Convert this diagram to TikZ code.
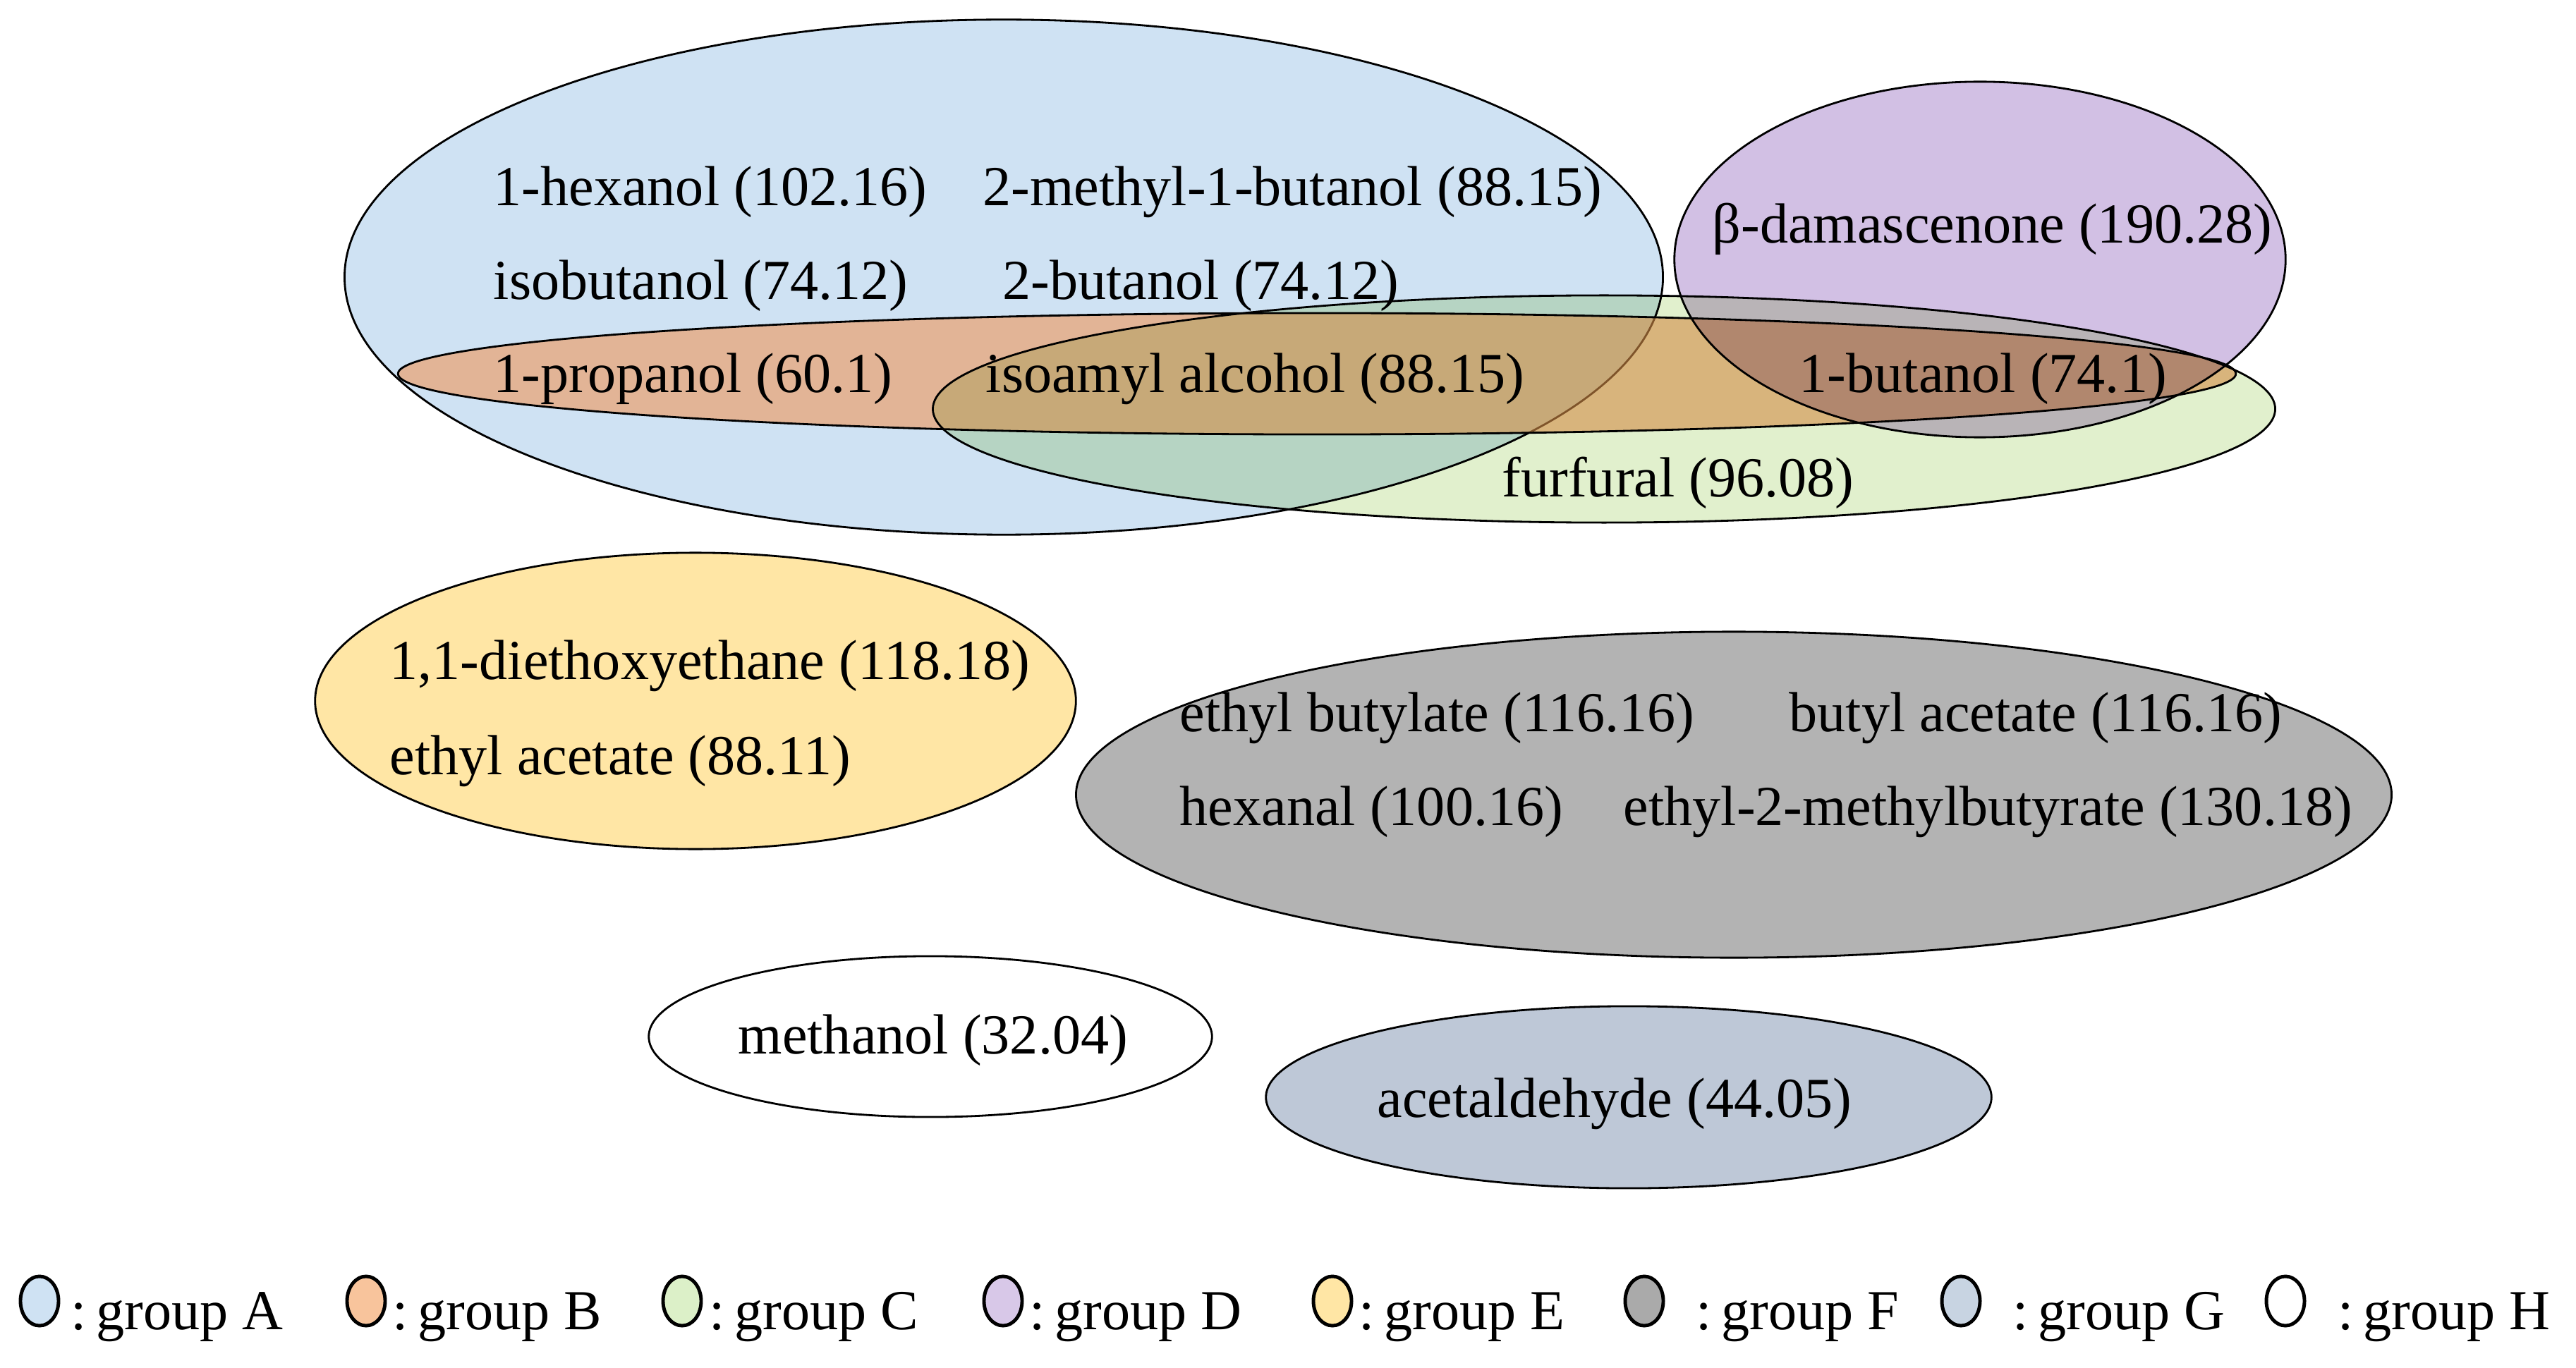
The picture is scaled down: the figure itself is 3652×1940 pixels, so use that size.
\documentclass[tikz,border=0pt]{standalone}
\usepackage{fontspec}
\setmainfont{Liberation Serif}
\usetikzlibrary{shapes.geometric}
\definecolor{cA}{RGB}{207,226,243}
\definecolor{cB}{RGB}{240,150,89}
\definecolor{cC}{RGB}{225,240,205}
\definecolor{cD}{RGB}{210,192,228}
\definecolor{cE}{RGB}{255,230,165}
\definecolor{cF}{RGB}{179,179,179}
\definecolor{cG}{RGB}{190,200,215}
\definecolor{kB}{RGB}{248,196,156}
\definecolor{kC}{RGB}{220,240,200}
\definecolor{kD}{RGB}{216,200,232}
\definecolor{kF}{RGB}{170,170,170}
\definecolor{kG}{RGB}{200,212,226}
\begin{document}
\begin{tikzpicture}[x=0.01cm,y=-0.01cm,
  grp/.style={ellipse, draw=black, line width=0.8pt, inner sep=0pt},
  lbl/.style={anchor=base west, inner sep=0pt, font=\fontsize{22.8}{27}\selectfont},
  key/.style={ellipse, draw=black, line width=1.4pt, minimum width=0.54cm, minimum height=0.70cm, inner sep=0pt}]
\useasboundingbox (0,0) rectangle (3652,1940);
% top cluster
\node[grp, fill=cA, minimum width=18.68cm, minimum height=7.30cm] (A) at (1423,393) {};
\node[grp, fill=cB, fill opacity=0.6, minimum width=26.04cm, minimum height=1.72cm] (B) at (1867,530) {};
\begin{scope}[blend mode=multiply]
\node[grp, fill=cC, minimum width=19.02cm, minimum height=3.22cm] (C) at (2274,580) {};
\node[grp, fill=cD, minimum width=8.66cm, minimum height=5.04cm] (D) at (2807,368) {};
\end{scope}
% other groups
\node[grp, fill=cE, minimum width=10.78cm, minimum height=4.20cm] (E) at (986,994) {};
\node[grp, fill=cF, minimum width=18.64cm, minimum height=4.62cm] (F) at (2458,1127) {};
\node[grp, fill=white, minimum width=7.98cm, minimum height=2.28cm] (H) at (1319,1470) {};
\node[grp, fill=cG, minimum width=10.28cm, minimum height=2.58cm] (G) at (2309,1556) {};
% labels
\node[lbl] (t1) at (699,292) {1-hexanol (102.16)};
\node[lbl] (t2) at (1393,292) {2-methyl-1-butanol (88.15)};
\node[lbl] (t3) at (699,425) {isobutanol (74.12)};
\node[lbl] (t4) at (1421,425) {2-butanol (74.12)};
\node[lbl] (t5) at (699,557) {1-propanol (60.1)};
\node[lbl] (t6) at (1397,557) {isoamyl alcohol (88.15)};
\node[lbl] (t7) at (2550,557) {1-butanol (74.1)};
\node[lbl] (t8) at (2427,345) {β-damascenone (190.28)};
\node[lbl] (t9) at (2129,704) {furfural (96.08)};
\node[lbl] (t10) at (552,963) {1,1-diethoxyethane (118.18)};
\node[lbl] (t11) at (552,1098) {ethyl acetate (88.11)};
\node[lbl] (t12) at (1672,1037) {ethyl butylate (116.16)};
\node[lbl] (t13) at (2536,1037) {butyl acetate (116.16)};
\node[lbl] (t14) at (1672,1170) {hexanal (100.16)};
\node[lbl] (t15) at (2301,1170) {ethyl-2-methylbutyrate (130.18)};
\node[lbl] (t16) at (1046,1494) {methanol (32.04)};
\node[lbl] (t17) at (1952,1584) {acetaldehyde (44.05)};
% legend
\node[key, fill=cA] (kA) at (56,1845) {};
\node[lbl] (lA) at (100,1885) {:\,group A};
\node[key, fill=kB] (kBn) at (519,1845) {};
\node[lbl] (lB) at (556,1885) {:\,group B};
\node[key, fill=kC] (kCn) at (967,1845) {};
\node[lbl] (lC) at (1005,1885) {:\,group C};
\node[key, fill=kD] (kDn) at (1422,1845) {};
\node[lbl] (lD) at (1459,1885) {:\,group D};
\node[key, fill=cE] (kEn) at (1889,1845) {};
\node[lbl] (lE) at (1926,1885) {:\,group E};
\node[key, fill=kF] (kFn) at (2331,1845) {};
\node[lbl] (lF) at (2404,1885) {:\,group F};
\node[key, fill=kG] (kGn) at (2780,1845) {};
\node[lbl] (lG) at (2853,1885) {:\,group G};
\node[key, fill=white] (kHn) at (3240,1845) {};
\node[lbl] (lH) at (3314,1885) {:\,group H};
\end{tikzpicture}
\end{document}
